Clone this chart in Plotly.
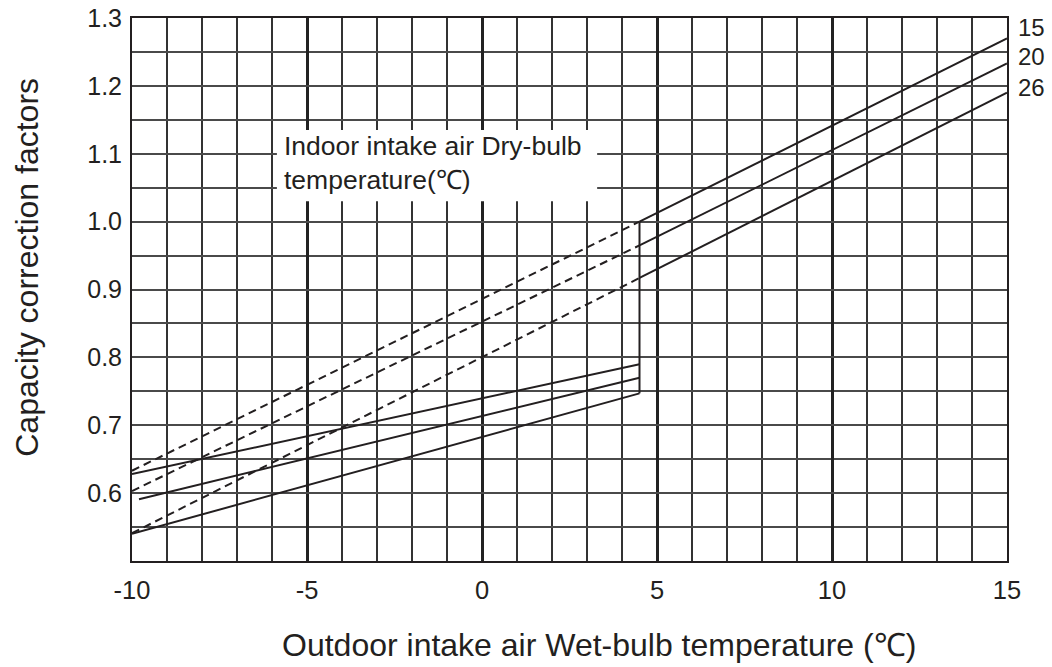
import plotly.graph_objects as go

# Indoor intake air dry-bulb temperatures (one curve each)
dry_bulb = ["15", "20", "26"]

# Upper branch (solid), outdoor wet-bulb 4.5 .. 15 °C
x_high = [4.5, 15]
high_15 = [1.000, 1.270]
high_20 = [0.965, 1.233]
high_26 = [0.917, 1.190]

# Extrapolated upper branch (dashed), -10 .. 4.5 °C
x_dash = [-10, 4.5]
dash_15 = [0.633, 1.000]
dash_20 = [0.603, 0.965]
dash_26 = [0.541, 0.917]

# Lower branch (solid), -10 .. 4.5 °C
x_low_15 = [-10, 4.5]
low_15 = [0.628, 0.790]
x_low_20 = [-9.8, 4.5]
low_20 = [0.591, 0.770]
x_low_26 = [-10, 4.5]
low_26 = [0.540, 0.747]

# Step at 4.5 °C joining the two branches
x_step = [4.5, 4.5]
y_step = [low_26[-1], high_15[0]]

x_ticks = [-10, -5, 0, 5, 10, 15]
x_tick_text = ["-10", "-5", "0", "5", "10", "15"]
y_ticks = [0.6, 0.7, 0.8, 0.9, 1.0, 1.1, 1.2, 1.3]

INK = "#231f20"
FONT = "Liberation Sans, Arial, Helvetica, sans-serif"

fig = go.Figure()

solid = dict(color=INK, width=2)
dashed = dict(color=INK, width=2, dash="8px,5px")

for xs, ys in [(x_dash, dash_15), (x_dash, dash_20), (x_dash, dash_26)]:
    fig.add_trace(go.Scatter(x=xs, y=ys, mode="lines", line=dashed,
                             hoverinfo="skip", showlegend=False))

for xs, ys in [(x_low_15, low_15), (x_low_20, low_20), (x_low_26, low_26),
               (x_high, high_15), (x_high, high_20), (x_high, high_26),
               (x_step, y_step)]:
    fig.add_trace(go.Scatter(x=xs, y=ys, mode="lines", line=solid,
                             hoverinfo="skip", showlegend=False))

# White backing behind the curve-set caption
fig.add_shape(type="rect", xref="x", yref="y",
              x0=-5.86, x1=3.29, y0=1.03, y1=1.135,
              fillcolor="white", line=dict(width=0), layer="between")

fig.add_annotation(xref="x", yref="y", x=-5.72, y=1.086,
                   xanchor="left", yanchor="middle", align="left",
                   text="Indoor intake air Dry-bulb<br>temperature(℃)",
                   showarrow=False, font=dict(size=26.5, color=INK, family=FONT))

# Curve labels at the right edge
label_y = [high_15[-1], high_20[-1], high_26[-1]]
label_shift = [11, 7, 5]
for name, yv, sh in zip(dry_bulb, label_y, label_shift):
    fig.add_annotation(xref="x", yref="y", x=15, y=yv, xanchor="left",
                       yanchor="middle", xshift=9, yshift=sh, text=name,
                       showarrow=False, font=dict(size=24, color=INK, family=FONT))

# Axis titles
fig.add_annotation(xref="paper", yref="paper", x=0.534, y=-0.155,
                   xanchor="center", yanchor="middle",
                   text="Outdoor intake air Wet-bulb temperature (℃)",
                   showarrow=False, font=dict(size=32, color=INK, family=FONT))
fig.add_annotation(xref="paper", yref="paper", x=-0.12, y=0.54,
                   xanchor="center", yanchor="middle", textangle=-90,
                   text="Capacity correction factors",
                   showarrow=False, font=dict(size=32, color=INK, family=FONT))

fig.update_xaxes(range=[-10, 15], tickvals=x_ticks, ticktext=x_tick_text,
                 ticks="", ticklabelstandoff=5, automargin=False,
                 tickfont=dict(size=25.5, color=INK, family=FONT),
                 showgrid=True, gridcolor="#222222", gridwidth=2.8,
                 minor=dict(dtick=1, tick0=-10, showgrid=True,
                            gridcolor="#333333", gridwidth=1.5),
                 showline=True, mirror=True, linecolor=INK, linewidth=2,
                 zeroline=False, fixedrange=True)
fig.update_yaxes(range=[0.5, 1.3], tickvals=y_ticks, tickformat=".1f",
                 ticks="", ticklabelstandoff=3, automargin=False,
                 tickfont=dict(size=25, color=INK, family=FONT),
                 showgrid=True, gridcolor="#4a4a4a", gridwidth=1.5,
                 minor=dict(dtick=0.05, tick0=0.5, showgrid=True,
                            gridcolor="#4a4a4a", gridwidth=1.5),
                 showline=True, mirror=True, linecolor=INK, linewidth=2,
                 zeroline=False, fixedrange=True)

fig.update_layout(width=1052, height=667,
                  margin=dict(l=132, r=45, t=18, b=106),
                  paper_bgcolor="white", plot_bgcolor="white",
                  font=dict(family=FONT, color=INK))

fig.write_html("out.html", config={"displayModeBar": False})
